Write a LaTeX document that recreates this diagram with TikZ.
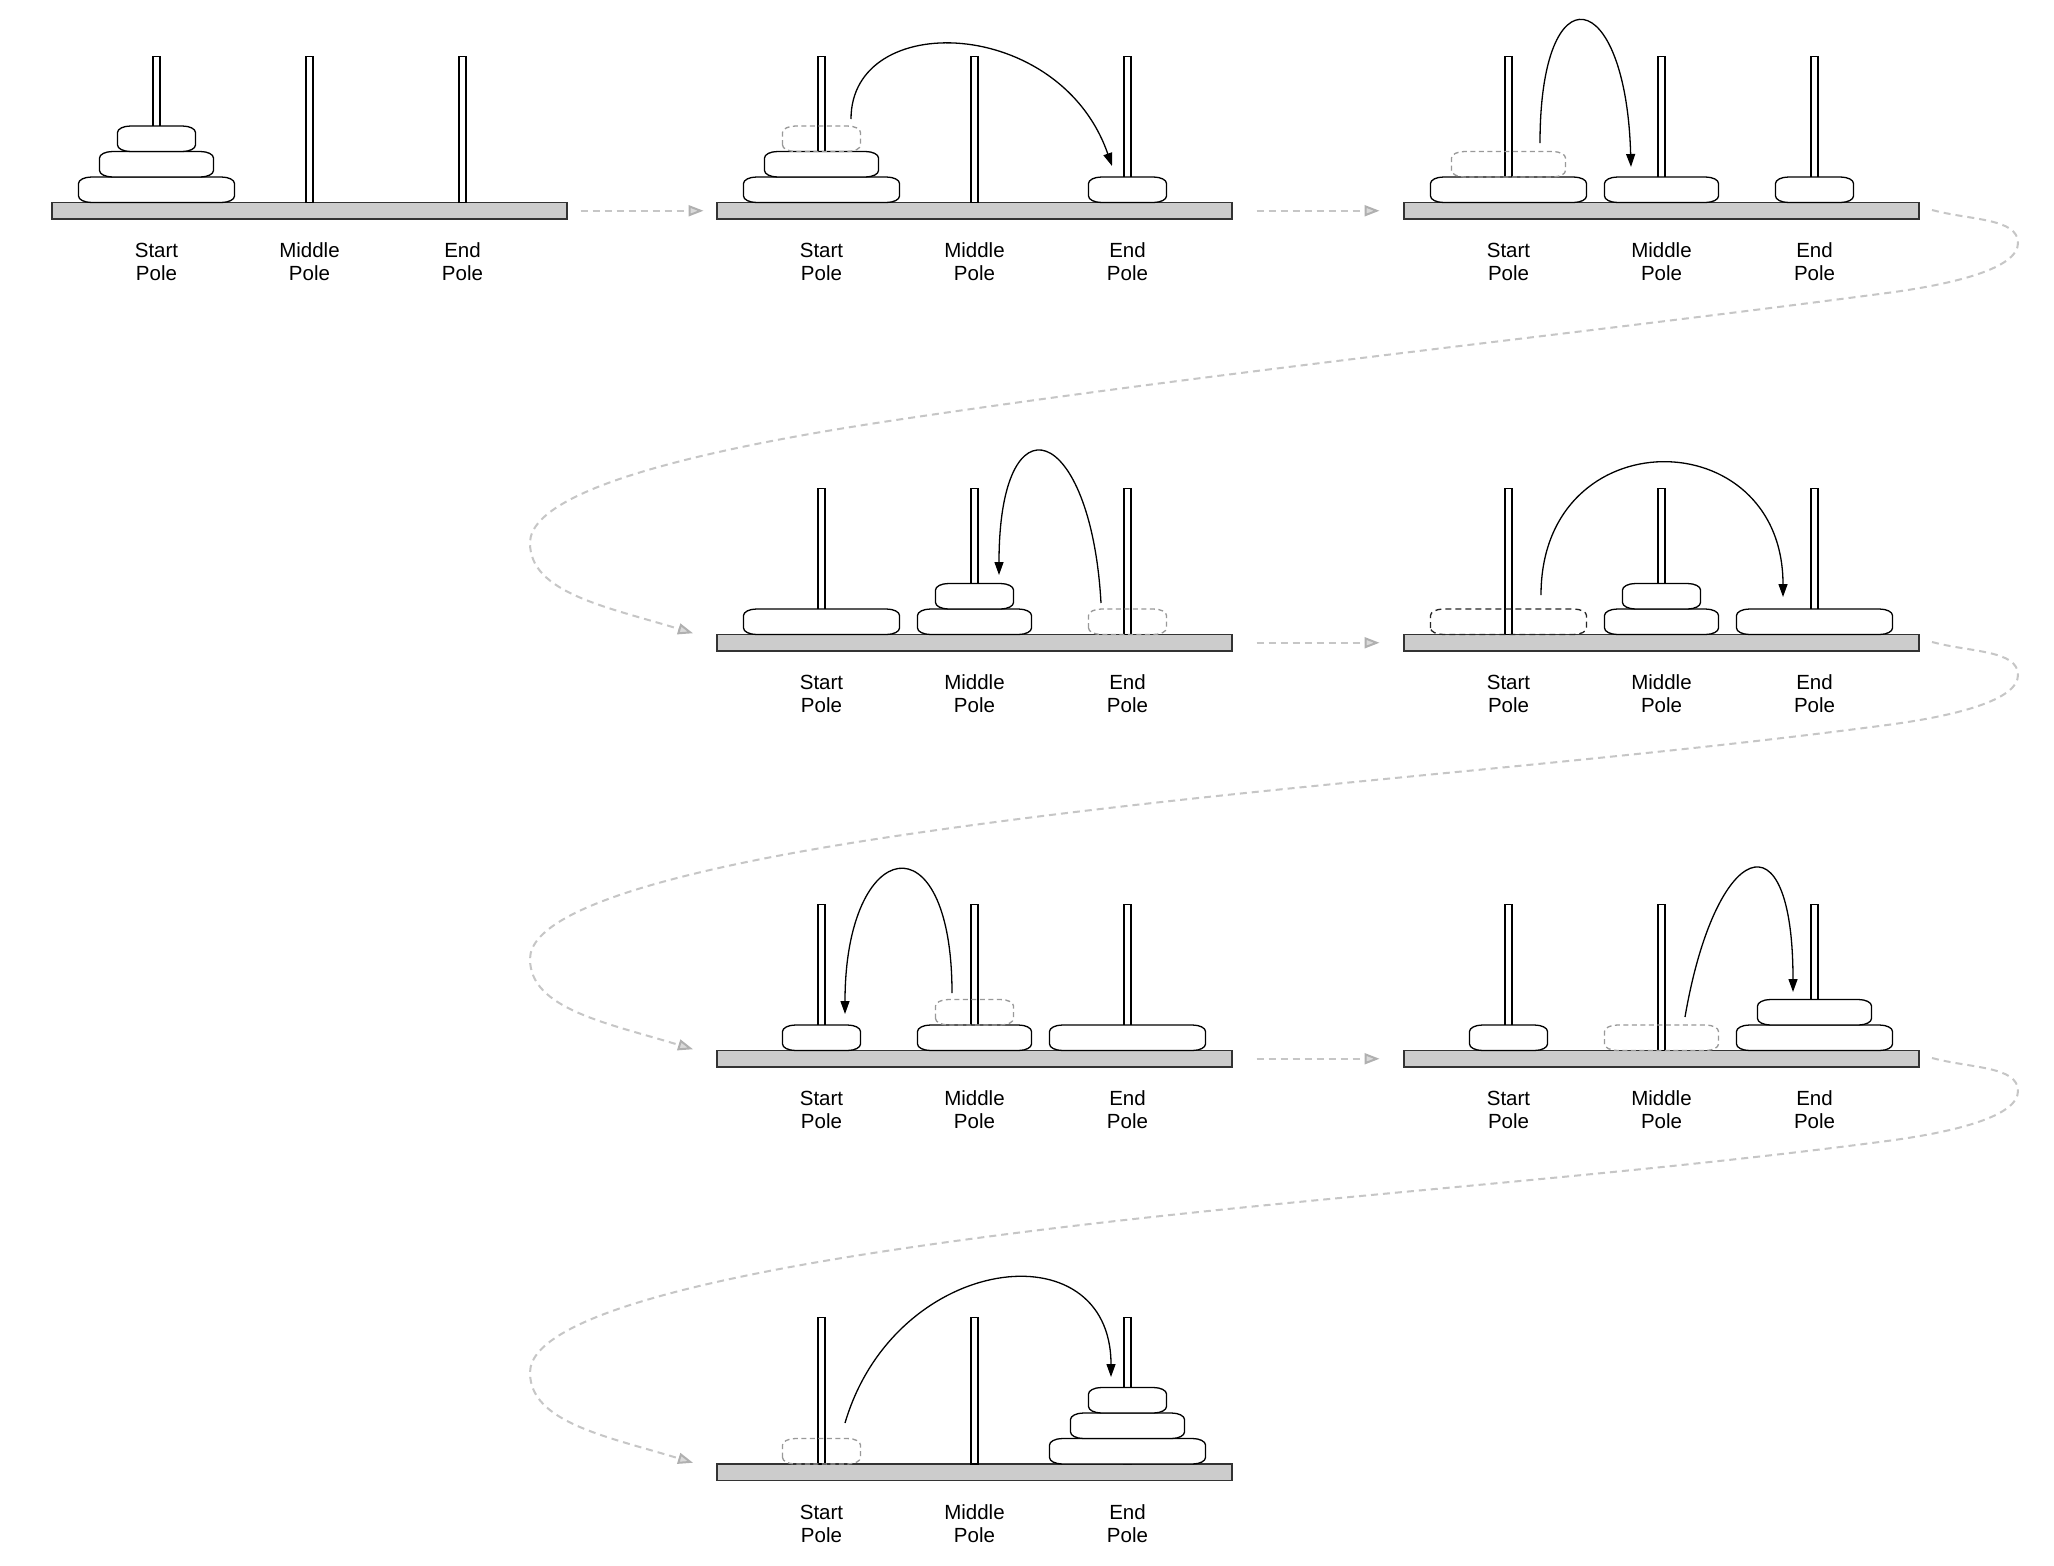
\documentclass[tikz,border=0pt]{standalone}
\usepackage{fontspec}
\setmainfont{Liberation Sans}
\usetikzlibrary{calc,arrows.meta}
\definecolor{basegray}{HTML}{CCCCCC}
\definecolor{cgray}{HTML}{C6C6C6}
\definecolor{tipgray}{HTML}{B0B0B0}
\definecolor{cfill}{HTML}{DADADA}
\definecolor{ghostgray}{HTML}{999999}
\newcommand\dkrx{13}
\newcommand\dkry{6.5}
% panel: id, base left x, base top y
\newcommand\panel[3]{%
  \node[basebox, anchor=north west] (b#1) at (#2,#3) {};
  \node[pole] (p#1S) at (#2+104.5,#3) {};
  \node[pole] (p#1M) at (#2+257.5,#3) {};
  \node[pole] (p#1E) at (#2+410.5,#3) {};
  \node[lbl] (l#1S) at (#2+104.5,#3-78) {Start\\Pole};
  \node[lbl] (l#1M) at (#2+257.5,#3-78) {Middle\\Pole};
  \node[lbl] (l#1E) at (#2+410.5,#3-78) {End\\Pole};
}
% disk: name, pole node, level, width, style
\newcommand\dk[5]{%
  \node[disknode, minimum width=#4pt] (#1) at ($(#2.south)+(0,#3*25.5)$) {};
  \draw[#5] ($(#1.south west)+(0,\dkry)$) -- ($(#1.north west)+(0,-\dkry)$)
    arc[start angle=180,end angle=90,x radius=\dkrx,y radius=\dkry]
    -- ($(#1.north east)+(-\dkrx,0)$)
    arc[start angle=90,end angle=0,x radius=\dkrx,y radius=\dkry]
    -- ($(#1.south east)+(0,\dkry)$)
    arc[start angle=0,end angle=-90,x radius=\dkrx,y radius=\dkry]
    -- ($(#1.south west)+(\dkrx,0)$)
    arc[start angle=270,end angle=180,x radius=\dkrx,y radius=\dkry] -- cycle;
}
% S-shaped connector from panel #1 (row end) to panel #2 (next row start)
\newcommand\scurve[2]{%
  \draw[conn] ($(b#1.east)+(13,0.75)$)
    .. controls +(38.6,-10.4) and +(0,25) .. ($(b#1.east)+(99,-32.25)$)
    .. controls +(0,-25) and +(69.3,9.2) .. ($(b#1.east)+(-32,-82.25)$)
    .. controls +(-327.2,-43.1) and +(326.4,48.8) .. ($(b#2.west)+(179,222.75)$)
    .. controls +(-148.4,-22.2) and +(0,60) .. ($(b#2.west)+(-187,99.75)$)
    .. controls +(0,-50) and +(-86,26.3) .. ($(b#2.west)+(-24,9.5)$);
}
\begin{document}
\begin{tikzpicture}[x=1pt,y=1pt,
  basebox/.style={draw=black!80, fill=basegray, minimum width=515pt, minimum height=16.5pt, inner sep=0pt, outer sep=0pt, line width=1.3pt},
  pole/.style={draw=black, fill=white, anchor=south, minimum width=7pt, minimum height=146.3pt, inner sep=0pt, outer sep=0pt, line width=1.1pt},
  lbl/.style={font=\fontsize{20.5pt}{23pt}\selectfont, align=center, anchor=base, inner sep=0pt},
  disknode/.style={anchor=south, minimum height=25.5pt, inner sep=0pt, outer sep=0pt},
  real/.style={draw=black, fill=white, line width=1.3pt},
  ghost/.style={draw=ghostgray, dash pattern=on 5pt off 3.5pt, line width=1.3pt},
  ghostdark/.style={draw=black!85, dash pattern=on 6pt off 4pt, line width=1.3pt},
  move/.style={draw=black, line width=1.3pt, -{Triangle[length=13pt,width=9pt]}},
  conn/.style={draw=cgray, line width=2pt, dash pattern=on 7pt off 5pt, -{Triangle[length=15pt,width=11pt,color=tipgray,fill=cfill]}}
]
\fill[white] (0,0) rectangle (2054,-1566);
\useasboundingbox (0,0) rectangle (2054,-1566);

% ---------- panel 1 ----------
\panel{1}{52}{-202.5}
\dk{d1L}{p1S}{0}{156}{real}
\dk{d1M}{p1S}{1}{114}{real}
\dk{d1S}{p1S}{2}{78}{real}

% ---------- panel 2 ----------
\panel{2}{717}{-202.5}
\dk{d2L}{p2S}{0}{156}{real}
\dk{d2M}{p2S}{1}{114}{real}
\dk{g2}{p2S}{2}{78}{ghost}
\dk{d2S}{p2E}{0}{78}{real}
\draw[move] ($(g2.north)+(29.5,7)$) .. controls +(0,110) and +(-52,150) .. ($(d2S.north)+(-15.5,11)$);

% ---------- panel 3 ----------
\panel{3}{1404}{-202.5}
\dk{d3L}{p3S}{0}{156}{real}
\dk{g3}{p3S}{1}{114}{ghost}
\dk{d3M}{p3M}{0}{114}{real}
\dk{d3S}{p3E}{0}{78}{real}
\draw[move] ($(g3.north)+(31.5,8.5)$) .. controls +(0,175) and +(-5,182) .. ($(d3M.north)+(-30.5,10)$);

% ---------- panel 4 ----------
\panel{4}{717}{-634.5}
\dk{d4L}{p4S}{0}{156}{real}
\dk{d4M}{p4M}{0}{114}{real}
\dk{d4S}{p4M}{1}{78}{real}
\dk{g4}{p4E}{0}{78}{ghost}
\draw[move] ($(g4.north)+(-26.5,6)$) .. controls +(-10,180) and +(0,183) .. ($(d4S.north)+(24.5,8.5)$);

% ---------- panel 5 ----------
\panel{5}{1404}{-634.5}
\dk{g5}{p5S}{0}{156}{ghostdark}
\dk{d5M}{p5M}{0}{114}{real}
\dk{d5S}{p5M}{1}{78}{real}
\dk{d5L}{p5E}{0}{156}{real}
\draw[move] ($(g5.north)+(32.5,14)$) .. controls +(0,177) and +(0,177) .. ($(d5L.north)+(-31.5,12)$);

% ---------- panel 6 ----------
\panel{6}{717}{-1050.5}
\dk{d6S}{p6S}{0}{78}{real}
\dk{d6M}{p6M}{0}{114}{real}
\dk{g6}{p6M}{1}{78}{ghost}
\dk{d6L}{p6E}{0}{156}{real}
\draw[move] ($(g6.north)+(-22.5,6.5)$) .. controls +(0,178) and +(0,178) .. ($(d6S.north)+(23.5,11)$);

% ---------- panel 7 ----------
\panel{7}{1404}{-1050.5}
\dk{d7S}{p7S}{0}{78}{real}
\dk{g7}{p7M}{0}{114}{ghost}
\dk{d7L}{p7E}{0}{156}{real}
\dk{d7M}{p7E}{1}{114}{real}
\draw[move] ($(g7.north)+(23.5,8)$) .. controls +(30,175) and +(0,184) .. ($(d7M.north)+(-21.5,7.5)$);

% ---------- panel 8 ----------
\panel{8}{717}{-1464}
\dk{g8}{p8S}{0}{78}{ghost}
\dk{d8L}{p8E}{0}{156}{real}
\dk{d8M}{p8E}{1}{114}{real}
\dk{d8S}{p8E}{2}{78}{real}
\draw[move] ($(g8.north)+(23.5,15.5)$) .. controls +(50,170) and +(0,150) .. ($(d8S.north)+(-16.5,10.5)$);

% ---------- step connectors ----------
\draw[conn] ($(b1.east)+(13.5,0)$) -- ($(b2.west)+(-13.5,0)$);
\draw[conn] ($(b2.east)+(24.5,0)$) -- ($(b3.west)+(-24.5,0)$);
\draw[conn] ($(b4.east)+(24.5,0)$) -- ($(b5.west)+(-24.5,0)$);
\draw[conn] ($(b6.east)+(24.5,0)$) -- ($(b7.west)+(-24.5,0)$);
\scurve{3}{4}
\scurve{5}{6}
\scurve{7}{8}
\end{tikzpicture}
\end{document}
